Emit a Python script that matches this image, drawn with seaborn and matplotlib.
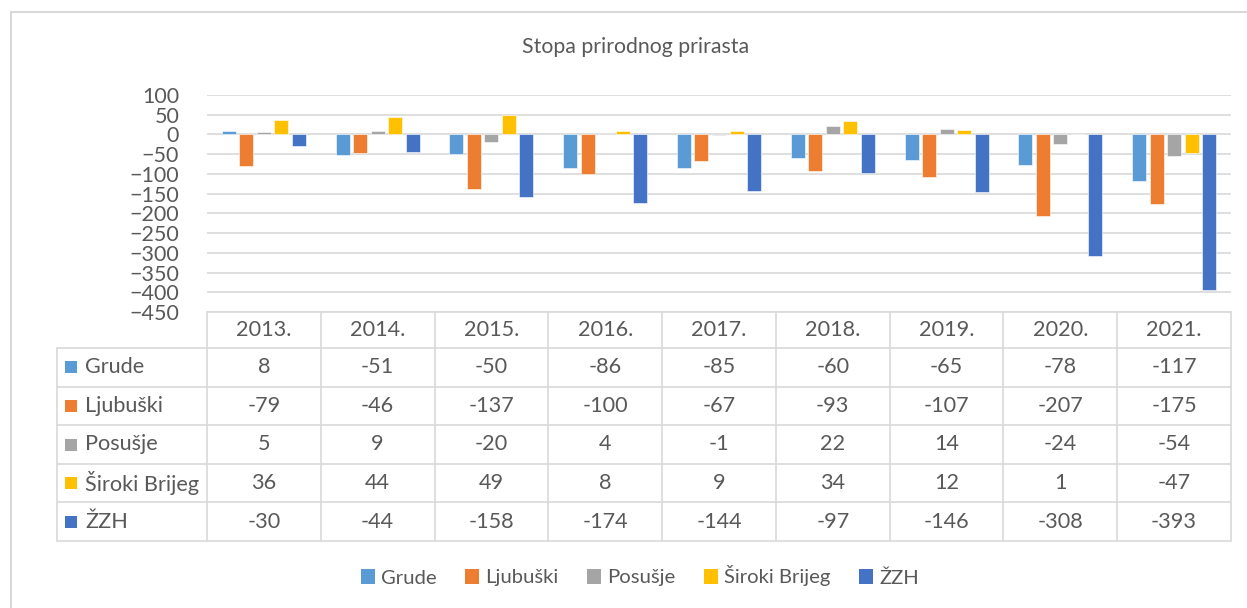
import matplotlib
matplotlib.use("Agg")
import matplotlib.pyplot as plt
import seaborn as sns
import pandas as pd
from matplotlib.patches import Rectangle, Patch
from matplotlib.lines import Line2D

years = ["2013.", "2014.", "2015.", "2016.", "2017.", "2018.", "2019.", "2020.", "2021."]
regions = ["Grude", "Ljubuški", "Posušje", "Široki Brijeg", "ŽZH"]
grude = [8, -51, -50, -86, -85, -60, -65, -78, -117]
ljubuski = [-79, -46, -137, -100, -67, -93, -107, -207, -175]
posusje = [5, 9, -20, 4, -1, 22, 14, -24, -54]
siroki = [36, 44, 49, 8, 9, 34, 12, 1, -47]
zzh = [-30, -44, -158, -174, -144, -97, -146, -308, -393]
colors = ["#5B9BD5", "#ED7D31", "#A5A5A5", "#FFC000", "#4472C4"]
title = "Stopa prirodnog prirasta"

series = [grude, ljubuski, posusje, siroki, zzh]
rows = []
for reg, vals in zip(regions, series):
    for y, v in zip(years, vals):
        rows.append({"year": y, "region": reg, "value": v})
df = pd.DataFrame(rows)

sns.set_theme(style="white")
plt.rcParams["font.family"] = ["Lato", "DejaVu Sans"]
TXT = "#595959"
GRID = "#D9D9D9"

W, H = 1247, 608
fig = plt.figure(figsize=(W / 100, H / 100), dpi=100)
fig.patch.set_facecolor("white")

def fx(px):
    return px / W

def fy(py):
    return 1 - py / H

# chart border
fig.patches.append(Rectangle((fx(11), fy(700)), fx(1300), (700 - 12) / H,
                             transform=fig.transFigure, fill=False,
                             edgecolor=GRID, linewidth=1.5))

x0, x1 = 207, 1231
ytop, ybot = 95, 312
ax = fig.add_axes([fx(x0), fy(ybot), fx(x1 - x0), (ybot - ytop) / H])
sns.barplot(data=df, x="year", y="value", hue="region", hue_order=regions,
            palette=colors, saturation=1, width=0.77, gap=0.2,
            ax=ax, legend=False, edgecolor="white", linewidth=0.4)
ax.set_ylim(-450, 100)
ax.set_xlim(-0.5, len(years) - 0.5)
ax.set_yticks(range(-450, 101, 50))
ax.yaxis.grid(True, color=GRID, linewidth=1.2)
ax.set_axisbelow(True)
for s in ax.spines.values():
    s.set_visible(False)
ax.set_xlabel("")
ax.set_ylabel("")
ax.set_xticks([])
ax.tick_params(axis="y", length=0, pad=20, labelsize=15.5, labelcolor=TXT)

fig.text(fx(636), fy(47), title, ha="center", va="center", fontsize=15.3, color=TXT)

# data table
colw = (x1 - x0) / len(years)
hdr_top, hdr_bot = 312, 348
rowh = (541 - 348) / len(regions)
lx = 57
lw = 1.2

def hline(xa, xb, y):
    fig.add_artist(Line2D([fx(xa), fx(xb)], [fy(y), fy(y)], color=GRID, linewidth=lw))

def vline(x, ya, yb):
    fig.add_artist(Line2D([fx(x), fx(x)], [fy(ya), fy(yb)], color=GRID, linewidth=lw))

hline(x0, x1, hdr_top)
hline(lx, x1, hdr_bot)
for i in range(len(regions)):
    hline(lx, x1, hdr_bot + (i + 1) * rowh)
for j in range(len(years) + 1):
    vline(x0 + j * colw, hdr_top, 541)
vline(lx, hdr_bot, 541)

TS = 15.6
for j, yr in enumerate(years):
    fig.text(fx(x0 + (j + 0.5) * colw), fy((hdr_top + hdr_bot) / 2), yr,
             ha="center", va="center", fontsize=TS, color=TXT)

for i, (reg, vals, c) in enumerate(zip(regions, series, colors)):
    cy = hdr_bot + (i + 0.5) * rowh
    fig.patches.append(Rectangle((fx(65), fy(cy + 6)), fx(12), 12 / H,
                                 transform=fig.transFigure, facecolor=c, edgecolor="none"))
    fig.text(fx(85), fy(cy), reg, ha="left", va="center", fontsize=TS, color=TXT)
    for j, v in enumerate(vals):
        fig.text(fx(x0 + (j + 0.5) * colw), fy(cy), str(v),
                 ha="center", va="center", fontsize=TS, color=TXT)

handles = [Patch(facecolor=c, edgecolor="none", label=r) for r, c in zip(regions, colors)]
fig.legend(handles=handles, loc="center", bbox_to_anchor=(fx(640), fy(576)), ncol=5,
           frameon=False, fontsize=14.6, labelcolor=TXT, handlelength=0.7,
           handleheight=0.7, handletextpad=0.3, columnspacing=1.4)

fig.savefig("out.png", dpi=100)
